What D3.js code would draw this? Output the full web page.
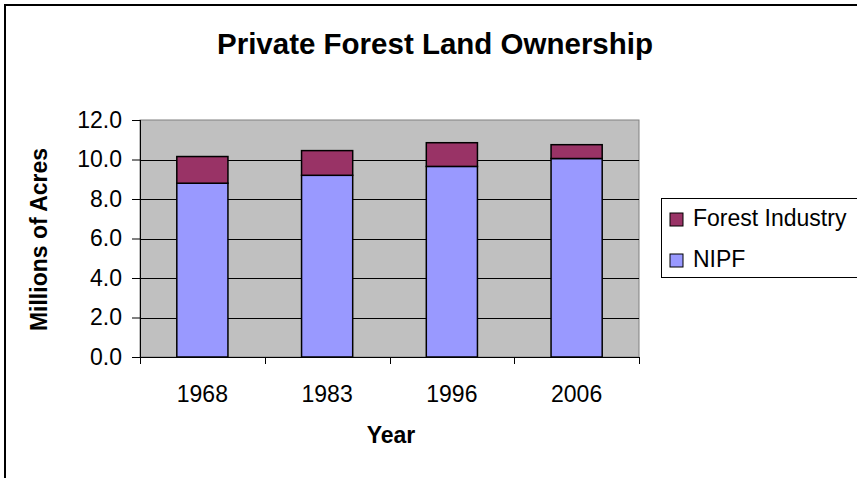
<!DOCTYPE html>
<html>
<head>
<meta charset="utf-8">
<script src="https://cdn.jsdelivr.net/npm/d3@7"></script>
<style>
  html, body { margin: 0; padding: 0; background: #fff; }
  svg { display: block; font-family: "Liberation Sans", Arial, sans-serif; }
</style>
</head>
<body>
<svg id="chart" width="857" height="478"></svg>
<script>
// Private forest land, millions of acres, by survey year
const years = ["1968", "1983", "1996", "2006"];
const nipf = [8.8, 9.2, 9.65, 10.05];
const forestIndustry = [1.35, 1.25, 1.2, 0.7];
const seriesNames = ["Forest Industry", "NIPF"];
const yTicks = [0, 2, 4, 6, 8, 10, 12];

const svg = d3.select("#chart");
const W = 857, H = 478;
const plot = { left: 140, right: 639, top: 120, bottom: 357 };
const labelSize = 23;

// Outer frame: only the left and top edges fall inside the canvas
svg.append("path")
  .attr("d", `M5,${H} L5,5 L${W},5`)
  .attr("fill", "none").attr("stroke", "#000").attr("stroke-width", 2);

svg.append("text")
  .attr("x", 435).attr("y", 53.5)
  .attr("text-anchor", "middle")
  .attr("font-size", 29.5).attr("font-weight", "bold")
  .text("Private Forest Land Ownership");

const x = d3.scaleBand().domain(years).range([plot.left, plot.right]).paddingInner(0.59).paddingOuter(0.295);
const xOuter = d3.scaleBand().domain(years).range([plot.left, plot.right]);
const y = d3.scaleLinear().domain([0, 12]).range([plot.bottom, plot.top]);

// Plot area
svg.append("rect")
  .attr("x", plot.left).attr("y", plot.top)
  .attr("width", plot.right - plot.left).attr("height", plot.bottom - plot.top)
  .attr("fill", "#C0C0C0").attr("stroke", "#808080").attr("stroke-width", 1);

// Horizontal gridlines
svg.append("g").selectAll("line")
  .data(yTicks.filter(d => d > 0 && d < 12))
  .join("line")
  .attr("x1", plot.left).attr("x2", plot.right)
  .attr("y1", d => Math.round(y(d)) + 0.5).attr("y2", d => Math.round(y(d)) + 0.5)
  .attr("stroke", "#000").attr("stroke-width", 1);

// Stacked bars
const rows = years.map((yr, i) => ({ year: yr, NIPF: nipf[i], "Forest Industry": forestIndustry[i] }));
const stack = d3.stack().keys(["NIPF", "Forest Industry"])(rows);
const colors = { "NIPF": "#9999FF", "Forest Industry": "#993366" };

svg.append("g").selectAll("g")
  .data(stack)
  .join("g")
  .attr("fill", d => colors[d.key])
  .selectAll("rect")
  .data(d => d)
  .join("rect")
  .attr("x", d => x(d.data.year))
  .attr("width", x.bandwidth())
  .attr("y", d => y(d[1]))
  .attr("height", d => y(d[0]) - y(d[1]))
  .attr("stroke", "#000").attr("stroke-width", 1.5);

// Y axis
const yAxis = d3.axisLeft(y).tickValues(yTicks).tickFormat(d3.format(".1f")).tickSize(8).tickPadding(10);
const gy = svg.append("g").attr("transform", `translate(${plot.left},0)`).call(yAxis);
gy.select(".domain").attr("stroke", "#000").attr("d", `M0.5,${plot.top}V${plot.bottom}`);
gy.selectAll(".tick line").attr("stroke", "#000");
gy.selectAll(".tick text").attr("font-size", labelSize).attr("fill", "#000")
  .attr("font-family", "Liberation Sans, Arial, sans-serif");

// X axis: ticks sit on category boundaries, labels centred in each band
const xAxisG = svg.append("g").attr("transform", `translate(0,${plot.bottom})`);
xAxisG.append("line")
  .attr("x1", plot.left).attr("x2", plot.right)
  .attr("y1", 0.5).attr("y2", 0.5).attr("stroke", "#000");
const boundaries = years.map(d => xOuter(d)).concat([plot.right]);
xAxisG.selectAll("line.tick")
  .data(boundaries)
  .join("line")
  .attr("class", "tick")
  .attr("x1", d => Math.round(d) + 0.5).attr("x2", d => Math.round(d) + 0.5)
  .attr("y1", 0).attr("y2", 7).attr("stroke", "#000");
xAxisG.selectAll("text")
  .data(years)
  .join("text")
  .attr("x", d => xOuter(d) + xOuter.bandwidth() / 2)
  .attr("y", 45)
  .attr("text-anchor", "middle")
  .attr("font-size", labelSize)
  .text(d => d);

// Axis titles
svg.append("text")
  .attr("x", 391).attr("y", 443)
  .attr("text-anchor", "middle")
  .attr("font-size", labelSize).attr("font-weight", "bold")
  .text("Year");

svg.append("text")
  .attr("transform", `translate(47,${(plot.top + plot.bottom) / 2 + 1}) rotate(-90)`)
  .attr("text-anchor", "middle")
  .attr("font-size", labelSize).attr("font-weight", "bold")
  .text("Millions of Acres");

// Legend
const legend = svg.append("g");
legend.append("rect")
  .attr("x", 661.5).attr("y", 198.5).attr("width", 210).attr("height", 79)
  .attr("fill", "#fff").attr("stroke", "#000").attr("stroke-width", 1);
const item = legend.selectAll("g.item")
  .data(seriesNames)
  .join("g")
  .attr("class", "item")
  .attr("transform", (d, i) => `translate(670,${213 + i * 41})`);
item.append("rect")
  .attr("width", 13).attr("height", 13)
  .attr("fill", d => colors[d]).attr("stroke", "#000").attr("stroke-width", 1);
item.append("text")
  .attr("x", 23).attr("y", 12.5)
  .attr("font-size", labelSize)
  .text(d => d);
</script>
</body>
</html>
